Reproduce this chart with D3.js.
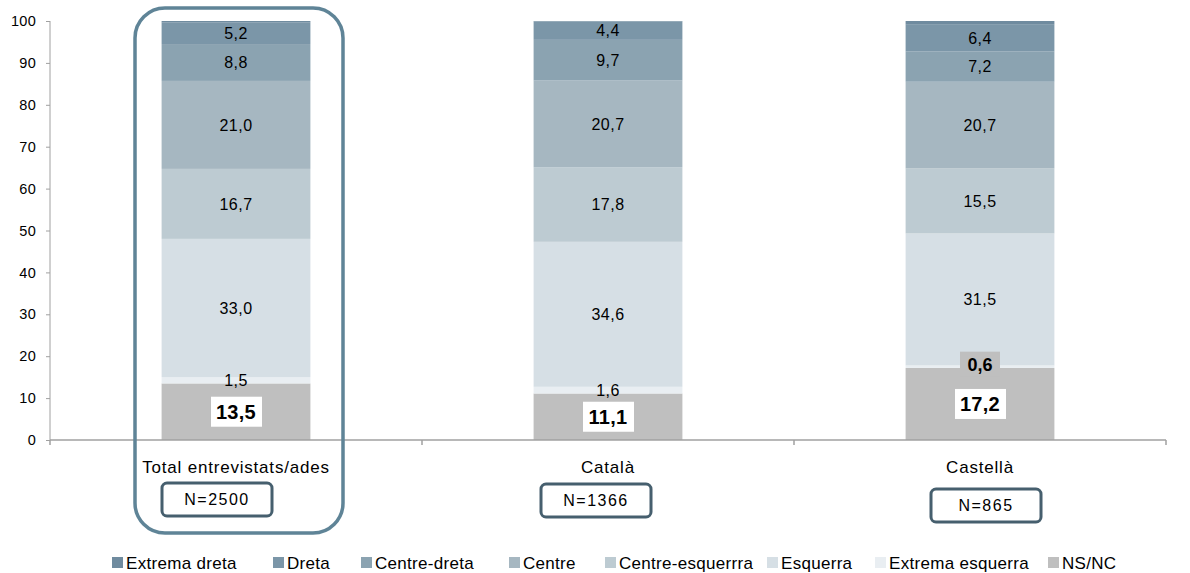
<!DOCTYPE html>
<html>
<head>
<meta charset="utf-8">
<script src="https://cdn.jsdelivr.net/npm/d3@7"></script>
<style>
  html, body { margin: 0; padding: 0; background: #fff; }
  svg { display: block; font-family: "Liberation Sans", Arial, sans-serif; }
</style>
</head>
<body>
<svg id="chart" width="1190" height="573"></svg>
<script>
// ---- data ----
const categories = ["Total entrevistats/ades", "Català", "Castellà"];
const sampleSizes = ["N=2500", "N=1366", "N=865"];
const seriesNames = ["Extrema dreta", "Dreta", "Centre-dreta", "Centre", "Centre-esquerrra", "Esquerra", "Extrema esquerra", "NS/NC"];
const extremaDreta    = [0.3, 0.1, 0.9];
const dreta           = [5.2, 4.4, 6.4];
const centreDreta     = [8.8, 9.7, 7.2];
const centre          = [21.0, 20.7, 20.7];
const centreEsquerra  = [16.7, 17.8, 15.5];
const esquerra        = [33.0, 34.6, 31.5];
const extremaEsquerra = [1.5, 1.6, 0.6];
const nsnc            = [13.5, 11.1, 17.2];
const yTicks = [0, 10, 20, 30, 40, 50, 60, 70, 80, 90, 100];

// ---- styles ----
const colors = {
  "Extrema dreta": "#6f8b9f",
  "Dreta": "#7b96a8",
  "Centre-dreta": "#8ba3b1",
  "Centre": "#a6b7c1",
  "Centre-esquerrra": "#bdcbd2",
  "Esquerra": "#d6dfe5",
  "Extrema esquerra": "#e9eef2",
  "NS/NC": "#bfbfbf"
};
const valuesBySeries = {
  "Extrema dreta": extremaDreta, "Dreta": dreta, "Centre-dreta": centreDreta, "Centre": centre,
  "Centre-esquerrra": centreEsquerra, "Esquerra": esquerra, "Extrema esquerra": extremaEsquerra, "NS/NC": nsnc
};
const stackOrder = seriesNames.slice().reverse();

const table = categories.map((c, i) => {
  const row = { cat: c };
  seriesNames.forEach(s => row[s] = valuesBySeries[s][i]);
  return row;
});

const svg = d3.select("#chart");
const x = d3.scaleBand().domain(categories).range([50, 1166]).paddingInner(0.6).paddingOuter(0.3);
const y = d3.scaleLinear().domain([0, 100]).range([440, 21]);

const stack = d3.stack().keys(stackOrder)(table);

// bars
const layers = svg.append("g").selectAll("g").data(stack).join("g")
  .attr("fill", d => colors[d.key]);
layers.selectAll("rect").data(d => d.map(p => ({ p, key: d.key }))).join("rect")
  .attr("x", d => x(d.p.data.cat))
  .attr("width", x.bandwidth())
  .attr("y", d => y(d.p[1]))
  .attr("height", d => y(d.p[0]) - y(d.p[1]));

// axes
const yAxis = svg.append("g").attr("transform", "translate(50,0)")
  .call(d3.axisLeft(y).tickValues(yTicks).tickSize(4).tickPadding(10).tickFormat(d3.format("d")));
yAxis.select(".domain").attr("stroke", "#a0a0a0").attr("d", "M0,440V21");
yAxis.selectAll(".tick line").attr("stroke", "#a0a0a0");
yAxis.selectAll(".tick text").attr("font-size", 14.5).attr("fill", "#000").attr("letter-spacing", "0.3px")
  .attr("font-family", "Liberation Sans, Arial, sans-serif");

const xAxisG = svg.append("g");
xAxisG.append("line").attr("x1", 50).attr("x2", 1166).attr("y1", y(0)).attr("y2", y(0))
  .attr("stroke", "#a0a0a0").attr("stroke-width", 1.5);
const boundaries = [50, ...categories.map(c => x(c) + x.bandwidth() / 2 + x.step() / 2)];
xAxisG.selectAll("line.tk").data(boundaries).join("line").attr("class", "tk")
  .attr("x1", d => d).attr("x2", d => d).attr("y1", y(0)).attr("y2", y(0) + 5)
  .attr("stroke", "#a0a0a0").attr("stroke-width", 1.5);

// category labels
svg.append("g").selectAll("text").data(categories).join("text")
  .attr("x", d => x(d) + x.bandwidth() / 2)
  .attr("y", 473)
  .attr("text-anchor", "middle")
  .attr("font-size", 17)
  .attr("letter-spacing", "0.8px")
  .attr("fill", "#000")
  .text(d => d);

// value labels
const labelG = svg.append("g");
stack.forEach(layer => {
  layer.forEach((p, i) => {
    const v = p[1] - p[0];
    const key = layer.key;
    if (key === "Extrema dreta") return;
    const cx = x(p.data.cat) + x.bandwidth() / 2;
    const cy = (y(p[0]) + y(p[1])) / 2;
    const txt = d3.format(".1f")(v).replace(".", ",");
    if (key === "NS/NC") {
      labelG.append("rect").attr("x", cx - 25).attr("y", cy - 15).attr("width", 51).attr("height", 30).attr("fill", "#fff");
      labelG.append("text").attr("x", cx).attr("y", cy).attr("dy", "0.36em").attr("text-anchor", "middle")
        .attr("font-size", 20).attr("font-weight", "bold").attr("letter-spacing", "0.3px").text(txt);
    } else if (key === "Extrema esquerra" && v < 1) {
      labelG.append("rect").attr("x", cx - 20).attr("y", cy - 15).attr("width", 40).attr("height", 25).attr("fill", "#bfbfbf");
      labelG.append("text").attr("x", cx).attr("y", cy - 2).attr("dy", "0.36em").attr("text-anchor", "middle")
        .attr("font-size", 18).attr("font-weight", "bold").text(txt);
    } else {
      labelG.append("text").attr("x", cx).attr("y", cy).attr("dy", "0.36em").attr("text-anchor", "middle")
        .attr("font-size", 16).attr("letter-spacing", "0.5px").attr("fill", "#000").text(txt);
    }
  });
});

// N boxes (annotations)
const nOffsets = [-19, -12, 6];
const nTops = [483, 484, 489];
const nG = svg.append("g");
categories.forEach((c, i) => {
  const cx = x(c) + x.bandwidth() / 2 + nOffsets[i];
  nG.append("rect").attr("x", cx - 55).attr("y", nTops[i]).attr("width", 110).attr("height", 33)
    .attr("rx", 5).attr("fill", "#fff").attr("stroke", "#465f6e").attr("stroke-width", 3);
  nG.append("text").attr("x", cx).attr("y", nTops[i] + 16.5).attr("dy", "0.36em").attr("text-anchor", "middle")
    .attr("font-size", 16).attr("letter-spacing", "1.5px").attr("fill", "#000").text(sampleSizes[i]);
});

// highlight frame round first category
const c0 = x(categories[0]) + x.bandwidth() / 2;
svg.append("rect").attr("x", c0 - 101).attr("y", 8).attr("width", 208).attr("height", 525)
  .attr("rx", 30).attr("fill", "none").attr("stroke", "#5f8497").attr("stroke-width", 3.5);

// legend
const legendX = [112, 273, 361, 509, 605, 767, 875, 1048];
const lg = svg.append("g").selectAll("g").data(seriesNames).join("g")
  .attr("transform", (d, i) => `translate(${legendX[i]},563)`);
lg.append("rect").attr("x", 0).attr("y", -6).attr("width", 11).attr("height", 11).attr("fill", d => colors[d]);
lg.append("text").attr("x", 14).attr("y", 0).attr("dy", "0.36em").attr("font-size", 17).attr("letter-spacing", "0.3px")
  .attr("fill", "#000").text(d => d);
</script>
</body>
</html>
